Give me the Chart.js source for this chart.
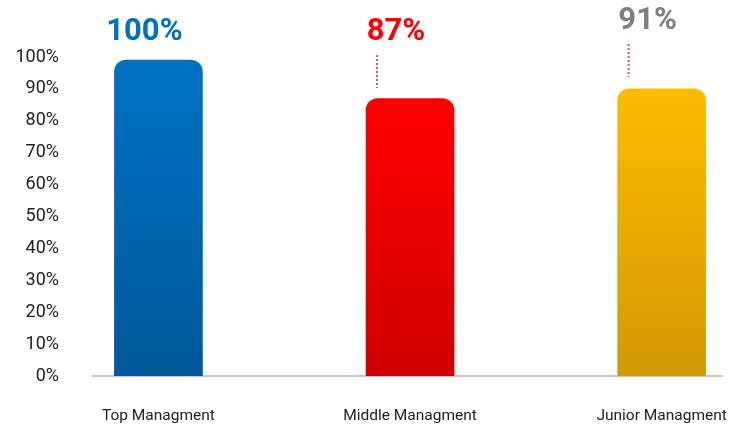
<!DOCTYPE html>
<html>
<head>
<meta charset="utf-8">
<script src="https://cdn.jsdelivr.net/npm/chart.js@4"></script>
<style>
  html, body { margin: 0; padding: 0; background: #fff; }
  #wrap { width: 735px; height: 427px; }
</style>
</head>
<body>
<div id="wrap"><canvas id="chart" width="735" height="427"></canvas></div>
<script>
// chart data
const categories = ['Top Managment', 'Middle Managment', 'Junior Managment'];
const barValues = [99, 87, 90];
const valueLabels = ['100%', '87%', '91%'];
const yTicks = [0, 10, 20, 30, 40, 50, 60, 70, 80, 90, 100];

// colours per bar: [top, bottom] of the gradient, and label colour
const barColors = [['#0072c3', '#005899'], ['#ff0000', '#cf0000'], ['#fcbc00', '#d39906']];
const labelColors = ['#0070c0', '#ff0000', '#808080'];

function barGradient(context) {
  const chart = context.chart;
  const area = chart.chartArea;
  const c = barColors[context.dataIndex];
  const yScale = chart.scales.y;
  if (!area || !yScale) return c[0];
  const top = yScale.getPixelForValue(barValues[context.dataIndex]);
  if (!isFinite(top) || !isFinite(area.bottom)) return c[0];
  const g = chart.ctx.createLinearGradient(0, top, 0, area.bottom);
  g.addColorStop(0, c[0]);
  g.addColorStop(1, c[1]);
  return g;
}

// big value labels and the dotted leader lines
const valueLabelPlugin = {
  id: 'valueLabels',
  afterDatasetsDraw(chart) {
    const ctx = chart.ctx;
    const bars = chart.getDatasetMeta(0).data;
    const labelY = [32, 32, 21];
    ctx.save();
    bars.forEach((bar, i) => {
      const cx = bar.x - 14;
      ctx.font = 'bold 31px Roboto';
      ctx.fillStyle = labelColors[i];
      ctx.textAlign = 'center';
      ctx.textBaseline = 'middle';
      ctx.fillText(valueLabels[i], cx, labelY[i]);
      if (i > 0) {
        ctx.beginPath();
        ctx.setLineDash([2, 2]);
        ctx.strokeStyle = 'rgba(222, 50, 80, 0.85)';
        ctx.lineWidth = 2;
        ctx.moveTo(bar.x - 33, labelY[i] + 23);
        ctx.lineTo(bar.x - 33, labelY[i] + 56);
        ctx.stroke();
      }
    });
    ctx.restore();
  }
};

new Chart(document.getElementById('chart'), {
  type: 'bar',
  data: {
    datasets: [{
      data: barValues.map((v, i) => ({ x: i, y: v })),
      backgroundColor: barGradient,
      barThickness: 88,
      borderRadius: { topLeft: 12, topRight: 12, bottomLeft: 0, bottomRight: 0 },
      borderSkipped: false
    }]
  },
  options: {
    responsive: false,
    animation: false,
    layout: { padding: { top: 57, right: 13, left: 0, bottom: 0 } },
    plugins: { legend: { display: false }, tooltip: { enabled: false } },
    scales: {
      x: {
        type: 'linear',
        offset: false,
        min: -0.26,
        max: 2.24,
        afterBuildTicks: (s) => { s.ticks = categories.map((c, i) => ({ value: i })); },
        afterFit: (s) => { s.height = 51; s.paddingLeft = 0; s.paddingRight = 0; },
        grid: { display: false },
        border: { color: '#c8c8c8', width: 2 },
        ticks: {
          padding: 23,
          color: '#222',
          font: { family: 'Roboto', size: 15.5 },
          callback: (v) => categories[v]
        }
      },
      y: {
        min: 0,
        max: 100,
        afterBuildTicks: (s) => { s.ticks = yTicks.map(v => ({ value: v })); },
        afterFit: (s) => { s.width = 93; },
        grid: { display: false },
        border: { display: false },
        ticks: {
          padding: 26,
          color: '#222',
          font: { family: 'Roboto', size: 18 },
          callback: (v) => v + '%'
        }
      }
    }
  },
  plugins: [valueLabelPlugin]
});
</script>
</body>
</html>
